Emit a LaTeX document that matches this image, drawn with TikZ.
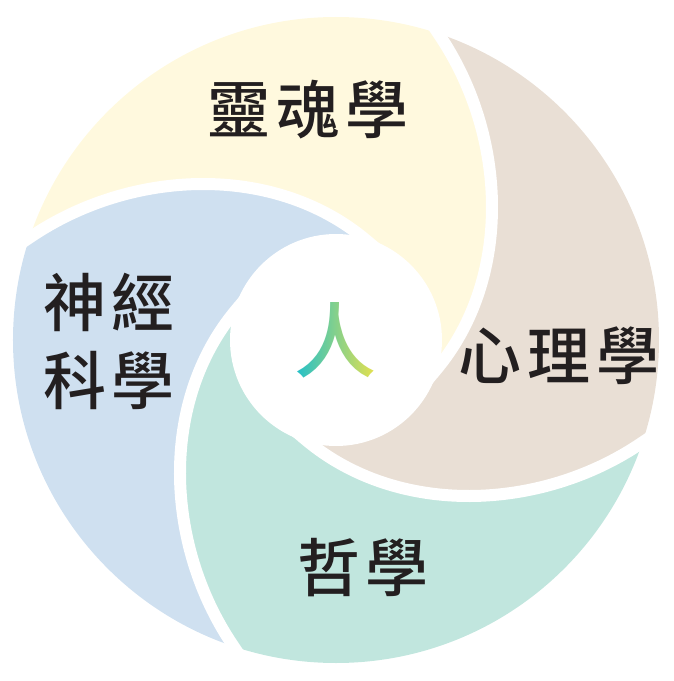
\documentclass[tikz,border=0pt]{standalone}
\usepackage{fontspec}
\usepackage{tikz}
\usetikzlibrary{fadings}

\newfontfamily\cjk{Noto Sans CJK TC Medium}[LetterSpace=9]
\newfontfamily\renfont{Noto Sans CJK TC Medium}

\definecolor{soulyellow}{HTML}{FFF9DE}
\definecolor{psytan}{HTML}{E9DFD5}
\definecolor{philgreen}{HTML}{C1E6DE}
\definecolor{neuroblue}{HTML}{CFE0F0}
\definecolor{inkblack}{HTML}{231F20}
\definecolor{renteal}{HTML}{1FBFCC}
\definecolor{rengreen}{HTML}{74CC9C}
\definecolor{renyellow}{HTML}{E8E14C}

\begin{tikzfadingfrompicture}[name=renfade]
  \node[text=transparent!0, inner sep=0pt, font=\renfont\fontsize{82}{82}\selectfont] (renmask) {人};
\end{tikzfadingfrompicture}

\begin{document}
\begin{tikzpicture}[x=1pt, y=1pt,
    gap line/.style={white, line width=12pt},
    subject/.style={text=inkblack, inner sep=0pt, align=center,
      font=\cjk\fontsize{63}{78}\selectfont}]
  \useasboundingbox (-336,-341) rectangle (337,340);

  % four coloured blades, cut to the outer rim
  \begin{scope}
    \clip (0,0) circle[radius=323pt];
    \foreach \ang/\col in {0/soulyellow, 90/neuroblue, 180/philgreen, 270/psytan}
      \fill[\col, rotate=\ang] (82,337) -- (104,304)
        .. controls (171,204) and (177,62) .. (100,-30) -- (0,0) -- (30,100)
        .. controls (-62,177) and (-204,171) .. (-304,104) -- (-337,82)
        -- (166:480) arc[start angle=166, end angle=76, radius=480pt] -- cycle;
  \end{scope}

  % white gaps and the hole
  \foreach \ang in {0,90,180,270}
    \draw[gap line, rotate=\ang] (82,337) -- (104,304)
      .. controls (171,204) and (177,62) .. (100,-30) -- (74,-61);
  \fill[white] (0,0) circle[radius=106pt];

  \node[subject] (soul) at (-28,230) {靈魂學};
  \node[subject] (psych) at (223,-16) {心理學};
  \node[subject] (neuro) at (-227,-1) {神經\\科學};
  \node[subject] (philo) at (27,-228) {哲學};

  % 人 with colour gradient
  \path[path fading=renfade, fit fading=false, left color=renteal,
    middle color=rengreen, right color=renyellow] (-42,-42) rectangle (40,42);
\end{tikzpicture}
\end{document}
